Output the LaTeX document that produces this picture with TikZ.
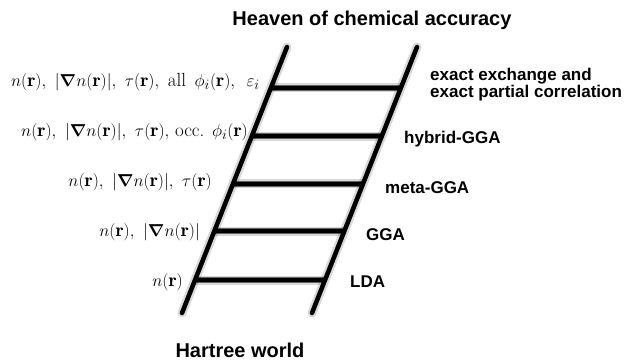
\documentclass[tikz,border=0pt]{standalone}
\usepackage{amsmath,bm}
\usepackage{fontspec}
\setsansfont{Liberation Sans}
\usetikzlibrary{calc}
\begin{document}
\begin{tikzpicture}[x=1pt,y=-1pt,
  rail/.style={line width=4.5pt, line cap=round, draw=black},
  rung/.style={line width=3.6pt, draw=black},
  shadowA/.style={line width=9pt, draw=black, opacity=0.15},
  shadowB/.style={line width=5.5pt, draw=black, opacity=0.55},
  lab/.style={font=\fontsize{17}{17}\selectfont\sffamily\bfseries, anchor=base west, inner sep=0pt},
  mlab/.style={font=\fontsize{19}{21}\selectfont, anchor=base east, inner sep=0pt},
  ttl/.style={font=\fontsize{20}{22}\selectfont\sffamily\bfseries, anchor=base, inner sep=0pt}]
\useasboundingbox (0,0) rectangle (626,362);
\coordinate (LT) at (287,47); \coordinate (LB) at (182,313);
\coordinate (RT) at (417,47); \coordinate (RB) at (312,313);
\path (LT) -- (LB)
  coordinate[pos=0.154] (l1) coordinate[pos=0.335] (l2) coordinate[pos=0.515] (l3)
  coordinate[pos=0.692] (l4) coordinate[pos=0.876] (l5);
\path (RT) -- (RB)
  coordinate[pos=0.154] (r1) coordinate[pos=0.335] (r2) coordinate[pos=0.515] (r3)
  coordinate[pos=0.692] (r4) coordinate[pos=0.876] (r5);
% shadows
\foreach \i in {1,...,5}{
  \draw[shadowA, yshift=-5pt] (l\i) -- (r\i);
  \draw[shadowB, yshift=-4pt] (l\i) -- (r\i);
}
\draw[shadowA, line cap=round, xshift=2pt, yshift=-2pt] (LT) -- (LB);
\draw[shadowA, line cap=round, xshift=2pt, yshift=-2pt] (RT) -- (RB);
\draw[shadowB, line width=4pt, line cap=round, xshift=2pt, yshift=-2pt, opacity=0.35] (LT) -- (LB);
\draw[shadowB, line width=4pt, line cap=round, xshift=2pt, yshift=-2pt, opacity=0.35] (RT) -- (RB);
% rungs and rails
\foreach \i in {1,...,5}{ \draw[rung] (l\i) -- (r\i); }
\draw[rail] (LT) -- (LB);
\draw[rail] (RT) -- (RB);
% titles
\node[ttl] (heaven) at (372,25) {Heaven of chemical accuracy};
\node[ttl] (hartree) at (240,357) {Hartree world};
% right labels
\node[lab] (ex1) at (430,80) {exact exchange and};
\node[lab] (ex2) at (430,97) {exact partial correlation};
\node[lab] (hyb) at (404,143) {hybrid-GGA};
\node[lab] (meta) at (385,193) {meta-GGA};
\node[lab] (gga) at (366,240) {GGA};
\node[lab] (lda) at (350,287) {LDA};
% left labels
\node[mlab] (m1) at (260,86) {$n(\mathbf{r}),\ |\bm{\nabla} n(\mathbf{r})|,\ \tau(\mathbf{r}),\,$ all $\,\phi_{i}(\mathbf{r}),\ \,\varepsilon_{i}$};
\node[mlab] (m2) at (248,136) {$n(\mathbf{r}),\ |\bm{\nabla} n(\mathbf{r})|,\ \tau(\mathbf{r}),$ occ. $\phi_{i}(\mathbf{r})$};
\node[mlab] (m3) at (212,186) {$n(\mathbf{r}),\ |\bm{\nabla} n(\mathbf{r})|,\ \tau(\mathbf{r})$};
\node[mlab] (m4) at (200,236) {$n(\mathbf{r}),\ |\bm{\nabla} n(\mathbf{r})|$};
\node[mlab] (m5) at (183,286) {$n(\mathbf{r})$};
\end{tikzpicture}
\end{document}
